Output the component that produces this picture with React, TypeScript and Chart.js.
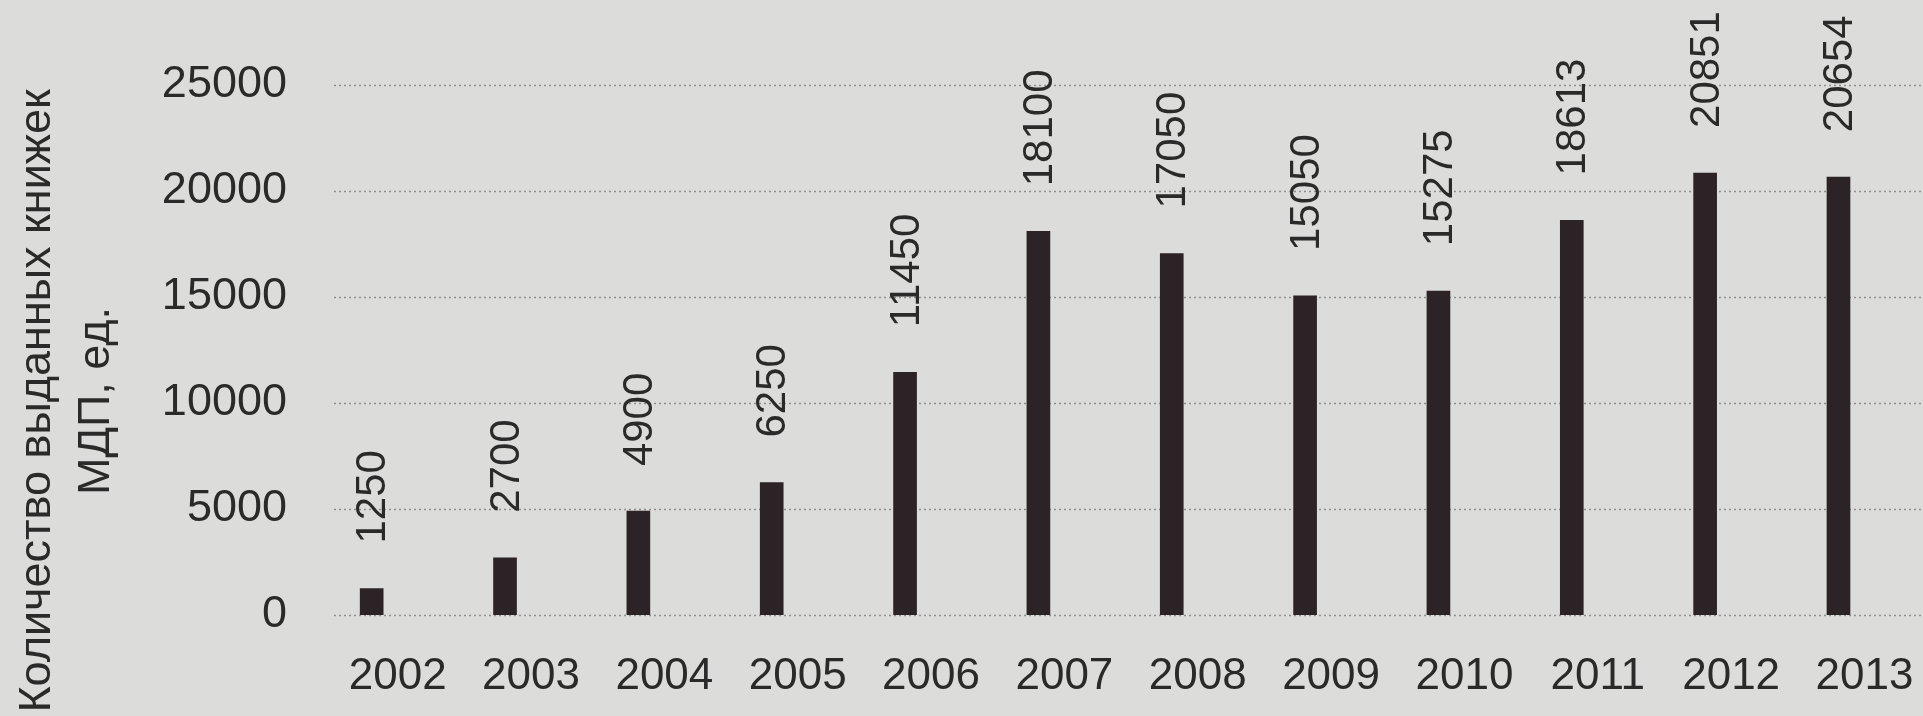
import React, { useEffect, useRef } from "react";
import { Chart, registerables } from "chart.js";

Chart.register(...registerables);

// ---- data ----
const years = ["2002", "2003", "2004", "2005", "2006", "2007", "2008", "2009", "2010", "2011", "2012", "2013"];
const booklets = [1250, 2700, 4900, 6250, 11450, 18100, 17050, 15050, 15275, 18613, 20851, 20654];
const yMin = 0;
const yMax = 25000;
const yStep = 5000;
const yTitleLines = ["Количество выданных книжек", "МДП, ед."];

const FONT = "'Liberation Sans', Arial, sans-serif";
const TEXT = "#2a2a2a";
const BG = "#dcdcda";
const BAR = "#2b2325";

const bgPlugin = {
  id: "bg",
  beforeDraw(chart: any) {
    const { ctx, width, height } = chart;
    ctx.save();
    ctx.fillStyle = BG;
    ctx.fillRect(0, 0, width, height);
    ctx.restore();
  },
};

const gridPlugin = {
  id: "dotgrid",
  beforeDatasetsDraw(chart: any) {
    const { ctx, chartArea, width } = chart;
    const y = chart.scales.y;
    ctx.save();
    ctx.strokeStyle = "#8e8e8c";
    ctx.lineWidth = 1.5;
    ctx.setLineDash([2, 3]);
    y.ticks.forEach((t: any) => {
      const py = Math.round(y.getPixelForValue(t.value)) + 0.5;
      ctx.beginPath();
      ctx.moveTo(chartArea.left + 29, py);
      ctx.lineTo(width, py);
      ctx.stroke();
    });
    ctx.restore();
  },
};

const valueLabelPlugin = {
  id: "valueLabels",
  afterDatasetsDraw(chart: any) {
    const { ctx } = chart;
    const meta = chart.getDatasetMeta(0);
    ctx.save();
    ctx.fillStyle = TEXT;
    ctx.font = `42px ${FONT}`;
    ctx.textAlign = "left";
    ctx.textBaseline = "middle";
    meta.data.forEach((bar: any, i: number) => {
      ctx.save();
      ctx.translate(bar.x + 2, bar.y - 45);
      ctx.rotate(-Math.PI / 2);
      ctx.fillText(String(booklets[i]), 0, 0);
      ctx.restore();
    });
    ctx.restore();
  },
};

const yTitlePlugin = {
  id: "yTitle",
  afterDraw(chart: any) {
    const { ctx } = chart;
    ctx.save();
    ctx.fillStyle = TEXT;
    ctx.font = `45px ${FONT}`;
    ctx.textAlign = "center";
    ctx.textBaseline = "middle";
    yTitleLines.forEach((line, i) => {
      ctx.save();
      ctx.translate(38 + i * 59, 401);
      ctx.rotate(-Math.PI / 2);
      ctx.fillText(line, 0, 0);
      ctx.restore();
    });
    ctx.restore();
  },
};

export default function App() {
  const ref = useRef<HTMLCanvasElement | null>(null);

  useEffect(() => {
    if (!ref.current) return;
    const chart = new Chart(ref.current, {
      type: "bar",
      data: {
        labels: years,
        datasets: [
          {
            data: booklets,
            backgroundColor: BAR,
            borderWidth: 0,
            barThickness: 23,
          },
        ],
      },
      options: {
        responsive: false,
        animation: false,
        layout: { padding: { left: 0, right: 14, top: 85, bottom: 0 } },
        plugins: {
          legend: { display: false },
          tooltip: { enabled: false },
        },
        scales: {
          x: {
            grid: { display: false, drawTicks: false },
            border: { display: false },
            ticks: {
              color: TEXT,
              font: { family: FONT, size: 44 },
              padding: 35,
              labelOffset: 26,
              maxRotation: 0,
              autoSkip: false,
            },
            afterFit: (scale: any) => {
              scale.height = 101;
            },
          },
          y: {
            min: yMin,
            max: yMax,
            grid: { display: false, drawTicks: false },
            border: { display: false },
            ticks: {
              stepSize: yStep,
              color: TEXT,
              font: { family: FONT, size: 45 },
              padding: 18,
              callback: (v: any) => String(v),
            },
            afterFit: (scale: any) => {
              scale.width = 305;
            },
          },
        },
      },
      plugins: [bgPlugin, gridPlugin, valueLabelPlugin, yTitlePlugin],
    });
    return () => chart.destroy();
  }, []);

  return (
    <div style={{ position: "fixed", left: 0, top: 0, width: 1923, height: 716, background: BG }}>
      <canvas ref={ref} width={1923} height={716} style={{ display: "block" }} />
    </div>
  );
}
